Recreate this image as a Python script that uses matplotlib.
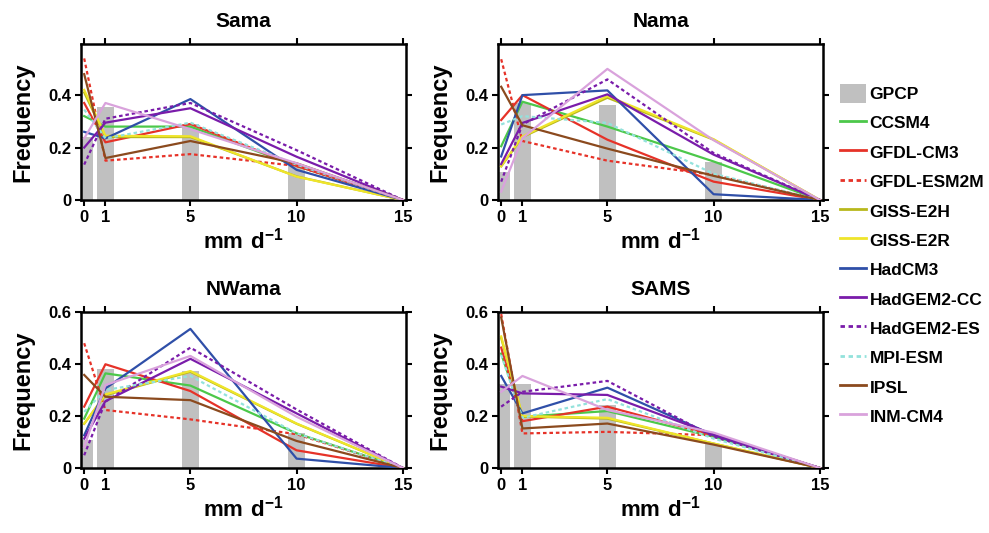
import matplotlib
matplotlib.use("Agg")
import matplotlib.pyplot as plt
from matplotlib.patches import Patch
from matplotlib.lines import Line2D

plt.rcParams['font.family'] = ['Liberation Sans', 'DejaVu Sans']
plt.rcParams['font.weight'] = 'bold'
plt.rcParams['mathtext.fontset'] = 'custom'
plt.rcParams['mathtext.rm'] = 'Liberation Sans:bold'
plt.rcParams['mathtext.bf'] = 'Liberation Sans:bold'

# Rain-rate bins (mm/day)
bins = [0, 1, 5, 10, 15]
obs_bins = [0, 1, 5, 10]
xtick_labels = ['0', '1', '5', '10', '15']

models = ['CCSM4', 'GFDL-CM3', 'GFDL-ESM2M', 'GISS-E2H', 'GISS-E2R', 'HadCM3',
          'HadGEM2-CC', 'HadGEM2-ES', 'MPI-ESM', 'IPSL', 'INM-CM4']
colors = ['#4CC84A', '#E63228', '#E63228', '#B8B81C', '#EFE52A', '#2F4FA8',
          '#7A1CAA', '#7A1CAA', '#93E2DC', '#8B4A1E', '#D9A2DC']
dotted = [False, False, True, False, False, False, False, True, True, False, False]

regions = ['Sama', 'Nama', 'NWama', 'SAMS']

# GPCP observed frequencies per region
gpcp_sama = [0.24, 0.355, 0.29, 0.13]
gpcp_nama = [0.105, 0.37, 0.364, 0.144]
gpcp_nwama = [0.107, 0.381, 0.373, 0.133]
gpcp_sams = [0.322, 0.322, 0.242, 0.094]

# Model frequencies per region, one row per model (same order as `models`)
sama = [
    [0.32, 0.28, 0.28, 0.13, 0],
    [0.37, 0.22, 0.29, 0.13, 0],
    [0.54, 0.15, 0.175, 0.13, 0],
    [0.41, 0.24, 0.24, 0.09, 0],
    [0.42, 0.245, 0.243, 0.089, 0],
    [0.26, 0.235, 0.385, 0.115, 0],
    [0.20, 0.295, 0.35, 0.165, 0],
    [0.135, 0.31, 0.37, 0.19, 0],
    [0.345, 0.235, 0.295, 0.135, 0],
    [0.48, 0.16, 0.225, 0.14, 0],
    [0.235, 0.37, 0.27, 0.14, 0],
]
nama = [
    [0.205, 0.375, 0.28, 0.147, 0],
    [0.305, 0.40, 0.23, 0.07, 0],
    [0.537, 0.225, 0.15, 0.096, 0],
    [0.128, 0.24, 0.39, 0.23, 0],
    [0.13, 0.243, 0.396, 0.232, 0],
    [0.166, 0.40, 0.418, 0.022, 0],
    [0.137, 0.294, 0.403, 0.173, 0],
    [0.07, 0.288, 0.46, 0.179, 0],
    [0.288, 0.32, 0.294, 0.10, 0],
    [0.432, 0.285, 0.196, 0.092, 0],
    [0.032, 0.236, 0.50, 0.228, 0],
]
nwama = [
    [0.19, 0.364, 0.317, 0.133, 0],
    [0.236, 0.399, 0.296, 0.068, 0],
    [0.48, 0.223, 0.187, 0.13, 0],
    [0.17, 0.28, 0.37, 0.17, 0],
    [0.171, 0.283, 0.373, 0.171, 0],
    [0.126, 0.306, 0.535, 0.036, 0],
    [0.113, 0.257, 0.42, 0.21, 0],
    [0.049, 0.255, 0.463, 0.225, 0],
    [0.216, 0.30, 0.354, 0.133, 0],
    [0.358, 0.274, 0.261, 0.104, 0],
    [0.081, 0.319, 0.431, 0.197, 0],
]
sams = [
    [0.44, 0.197, 0.219, 0.12, 0],
    [0.463, 0.18, 0.236, 0.126, 0],
    [0.592, 0.133, 0.139, 0.126, 0],
    [0.50, 0.198, 0.19, 0.094, 0],
    [0.506, 0.20, 0.193, 0.094, 0],
    [0.354, 0.21, 0.309, 0.126, 0],
    [0.313, 0.287, 0.281, 0.129, 0],
    [0.236, 0.293, 0.335, 0.12, 0],
    [0.435, 0.193, 0.265, 0.113, 0],
    [0.579, 0.152, 0.171, 0.09, 0],
    [0.293, 0.354, 0.223, 0.136, 0],
]

region_models = [sama, nama, nwama, sams]
region_obs = [gpcp_sama, gpcp_nama, gpcp_nwama, gpcp_sams]

W, H = 989, 533
fig = plt.figure(figsize=(W / 100, H / 100), dpi=100)

# axes boxes in pixel units: left, top, right, bottom
boxes = [(81, 44, 406, 200), (498, 44, 823, 200),
         (81, 312, 406, 468), (498, 312, 823, 468)]
ylims = [0.595, 0.595, 0.6, 0.6]
yticks_sets = [[0, 0.2, 0.4], [0, 0.2, 0.4], [0, 0.2, 0.4, 0.6], [0, 0.2, 0.4, 0.6]]

dot_style = (0, (1.6, 1.3))

for i, region in enumerate(regions):
    l, t, r, b = boxes[i]
    ax = fig.add_axes([l / W, 1 - b / H, (r - l) / W, (b - t) / H])
    ax.bar(obs_bins, region_obs[i], width=0.83, color='#C0C0C0', zorder=1)
    for j, name in enumerate(models):
        ax.plot(bins, region_models[i][j], color=colors[j], lw=1.6,
                linestyle=dot_style if dotted[j] else '-', zorder=2 + j)
    ax.set_xlim(-0.15, 15.15)
    ax.set_ylim(0, ylims[i])
    ax.set_xticks(bins)
    ax.set_xticklabels(xtick_labels)
    ax.set_yticks(yticks_sets[i])
    ax.set_yticklabels(['0' if v == 0 else f'{v:.1f}' for v in yticks_sets[i]])
    ax.tick_params(direction='out', length=4, width=1.5, labelsize=12,
                   top=True, right=True, pad=3)
    for s in ax.spines.values():
        s.set_linewidth(1.8)
    ax.set_title(region, fontsize=15, fontweight='bold', pad=12)
    ax.set_xlabel(r'$\mathbf{mm\ d^{-1}}$', fontsize=16, labelpad=2)
    ax.set_ylabel('Frequency', fontsize=17, fontweight='bold')
    ax.yaxis.set_label_coords(-0.142, 0.5)

handles = [Patch(facecolor='#C0C0C0', edgecolor='none')]
for j in range(len(models)):
    handles.append(Line2D([], [], color=colors[j], lw=2,
                          linestyle=dot_style if dotted[j] else '-'))
labels = ['GPCP'] + models
fig.legend(handles, labels, loc='center left', bbox_to_anchor=(840 / W, 1 - 254.7 / H),
           frameon=False, fontsize=12.5, handlelength=1.5, handleheight=1.3,
           handletextpad=0.2, labelspacing=0.6, borderpad=0, borderaxespad=0)

fig.savefig('out.png', dpi=100)
